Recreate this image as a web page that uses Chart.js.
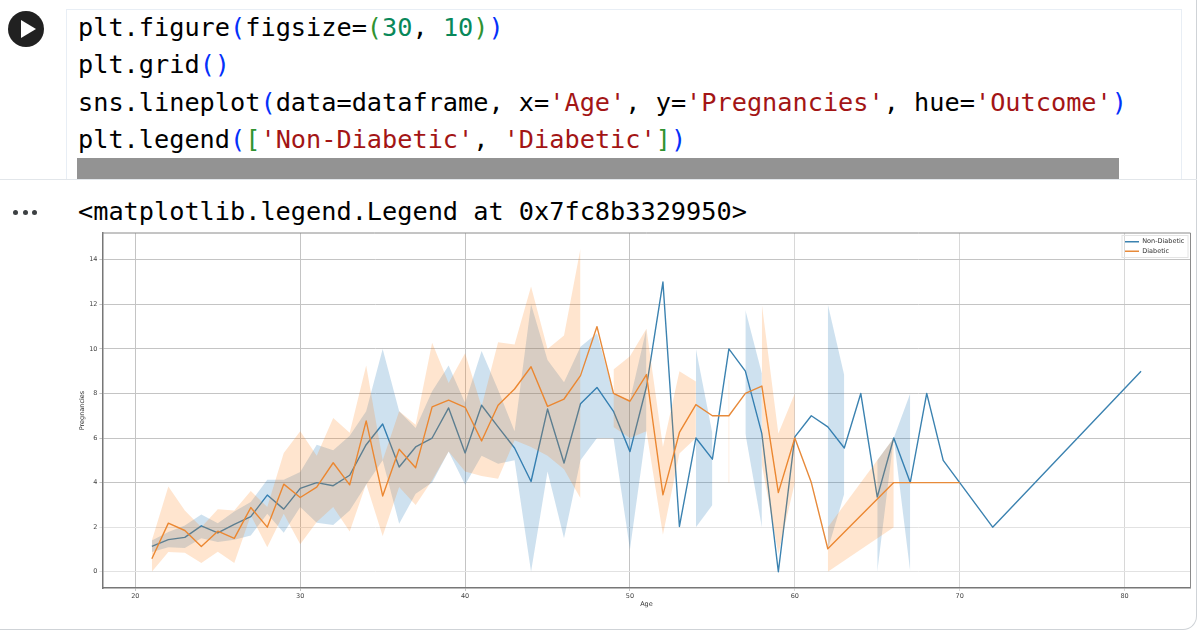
<!DOCTYPE html>
<html>
<head>
<meta charset="utf-8">
<title>Pregnancies by Age</title>
<script src="https://cdn.jsdelivr.net/npm/chart.js@4/dist/chart.umd.min.js"></script>
<style>
  html, body { margin: 0; padding: 0; background: #fff; }
  #page { position: relative; width: 1200px; height: 631px; overflow: hidden; }
  #page canvas { position: absolute; left: 0; top: 0; }
  /* notebook cell around the chart */
  .codebox { position: absolute; left: 66px; top: 9px; width: 1116px; height: 170px; border: 1px solid #e8eef5; border-bottom: none; box-sizing: border-box; }
  .divider { position: absolute; left: 0; top: 179px; width: 1197px; height: 1px; background: #e2e6ea; }
  .card { position: absolute; left: -20px; top: -20px; width: 1217px; height: 650px; border-right: 1px solid #cfd3d7; border-bottom: 1px solid #cfd3d7; border-bottom-right-radius: 14px; box-sizing: border-box; }
  .code { position: absolute; left: 78px; font: 25.25px/37px "DejaVu Sans Mono", monospace; color: #000; white-space: pre; }
  .play { position: absolute; left: 8px; top: 11px; width: 36px; height: 36px; border-radius: 50%; background: #212121; }
  .play i { position: absolute; left: 13px; top: 9px; border-left: 15px solid #fff; border-top: 9px solid transparent; border-bottom: 9px solid transparent; }
  .bar { position: absolute; left: 77px; top: 158px; width: 1042px; height: 21px; background: #939393; }
  .dots { position: absolute; left: 13px; top: 210px; width: 24px; display: flex; justify-content: space-between; }
  .dots i { width: 5px; height: 5px; border-radius: 50%; background: #3c4043; }
  .b { color: #0431fa; } .g { color: #319331; } .n { color: #09885a; } .s { color: #a31515; }
</style>
</head>
<body>
<div id="page">
  <div class="card"></div>
  <div class="codebox"></div>
  <div class="play"><i></i></div>
  <div class="code" style="top:9px">plt.figure<span class="b">(</span>figsize=<span class="g">(</span><span class="n">30</span>, <span class="n">10</span><span class="g">)</span><span class="b">)</span></div>
  <div class="code" style="top:46px">plt.grid<span class="b">()</span></div>
  <div class="code" style="top:84px">sns.lineplot<span class="b">(</span>data=dataframe, x=<span class="s">'Age'</span>, y=<span class="s">'Pregnancies'</span>, hue=<span class="s">'Outcome'</span><span class="b">)</span></div>
  <div class="code" style="top:121px">plt.legend<span class="b">(</span><span class="g">[</span><span class="s">'Non-Diabetic'</span>, <span class="s">'Diabetic'</span><span class="g">]</span><span class="b">)</span></div>
  <div class="bar"></div>
  <div class="divider"></div>
  <div class="dots"><i></i><i></i><i></i></div>
  <div class="code" style="top:193px">&lt;matplotlib.legend.Legend at 0x7fc8b3329950&gt;</div>
  <canvas id="myChart" width="1200" height="631"></canvas>
</div>
<script>
// values
const xTicks = [20, 30, 40, 50, 60, 70, 80];
const yTicks = [0, 2, 4, 6, 8, 10, 12, 14];

const blueAges = [21, 22, 23, 24, 25, 26, 27, 28, 29, 30, 31, 32, 33, 34, 35, 36, 37, 38, 39, 40, 41, 42, 43, 44, 45, 46, 47, 48, 49, 50, 51, 52, 53, 54, 55, 56, 57, 58, 59, 60, 61, 62, 63, 64, 65, 66, 67, 68, 69, 70, 72, 81];
const blueMean = [1.14, 1.44, 1.54, 2.06, 1.74, 2.13, 2.47, 3.44, 2.81, 3.74, 4, 3.86, 4.33, 5.7, 6.63, 4.7, 5.6, 6, 7.35, 5.33, 7.47, 6.5, 5.55, 4.05, 7.3, 4.88, 7.54, 8.27, 7.2, 5.39, 8.3, 13, 2.03, 6, 5.05, 10, 9, 6.2, 0, 6.05, 7, 6.5, 5.55, 8, 3.35, 6, 4, 8, 5, 4, 2, 9];
const blueUpper = [1.4, 1.78, 2.08, 2.57, 2.18, 2.7, 3.13, 4.13, 4.13, 4.48, 5.7, 5.45, 6.1, 7.2, 10, 7.2, 6.45, 8.1, 9.25, 7.57, 9.9, 8.17, 6.3, 12, 9.5, 8.5, 10.1, 10.7, 8, 7.7, 10.9, null, null, 10, 6.2, null, 11.75, 8.9, null, null, null, 12, 8.8, null, 5, 6, 8, null, null, null, null, null];
const blueLower = [0.88, 1.1, 1.06, 1.5, 1.33, 1.44, 1.63, 2.6, 1.75, 2.9, 2.2, 2.1, 2.75, 3.9, 5, 2.15, 3.5, 4, 5.4, 3.9, 5.2, 4.85, 5, 0, 4.5, 1.5, 5, 6, 6, 1, 6.37, null, null, 2, 3, null, 6.2, 2, null, null, null, 1, 3.5, null, 0, 6, 0, null, null, null, null, null];

const orangeAges = [21, 22, 23, 24, 25, 26, 27, 28, 29, 30, 31, 32, 33, 34, 35, 36, 37, 38, 39, 40, 41, 42, 43, 44, 45, 46, 47, 48, 49, 50, 51, 52, 53, 54, 55, 56, 57, 58, 59, 60, 61, 62, 66, 67, 70];
const orangeMean = [0.58, 2.18, 1.85, 1.13, 1.82, 1.5, 2.88, 2, 3.93, 3.33, 3.8, 4.89, 3.9, 6.77, 3.4, 5.5, 4.67, 7.4, 7.7, 7.38, 5.87, 7.47, 8.2, 9.2, 7.42, 7.75, 8.8, 11, 8, 7.65, 8.85, 3.45, 6.25, 7.5, 7, 7, 8, 8.33, 3.55, 6, 4, 1.03, 4, 4, 4];
const orangeUpper = [1.4, 3.83, 2.75, 2, 2.8, 2.75, 3.62, 2.9, 5.33, 6.3, 5.2, 6.9, 6.24, 9.25, 5, 7.2, 6.6, 10.27, 8.47, 9.8, 7.4, 10.3, 10.2, 12.8, 10, 10.6, 14.5, null, 9.07, 9.67, 10.9, 5.6, 9, 8.54, null, null, null, 12, 6.2, 8, null, 2, 6, null, null];
const orangeLower = [0, 0.88, 0.85, 0.39, 0.9, 0.39, 2.53, 1.1, 2.6, 1.23, 2.23, 2.9, 1.8, 3.95, 1.6, 3.8, 3, 4.1, 5.4, 4.5, 4.3, 4.17, 5.9, 5.6, 5.2, 4.6, 3.3, null, 6.5, 6, 6.3, 1.66, 5.3, 6, null, null, null, 4.8, 0.8, 4, null, 0, 2, null, null];
// zero-width band at 56, only a hairline in the picture
const hairlineAges = [56, 56];
const hairlineRange = [4, 8.6];

const blueLine = '#3b82b0';
const orangeLine = '#e78a3a';
const blueBand = 'rgba(31, 119, 180, 0.22)';
const orangeBand = 'rgba(255, 127, 14, 0.2)';

const toPoints = (ages, vals) => ages.map((a, i) => ({ x: a, y: vals[i] }));

const meanLine = (label, ages, vals, color, order) => ({
  label: label,
  data: toPoints(ages, vals),
  borderColor: color,
  backgroundColor: color,
  borderWidth: 1.4,
  borderJoinStyle: 'round',
  pointRadius: 0,
  order: order
});

const bandEdge = (ages, vals, fill, color, order) => ({
  data: toPoints(ages, vals),
  borderWidth: 0,
  pointRadius: 0,
  fill: fill,
  backgroundColor: color,
  order: order
});

const tickFont = { family: 'DejaVu Sans', size: 6.5 };

// top and right spines, and the legend moved into the upper right corner
const framePlugin = {
  id: 'framePlugin',
  beforeDraw(chart) {
    const a = chart.chartArea, l = chart.legend;
    l.width = 66;
    l.height = 22;
    l.left = a.right - 68.5;
    l.right = l.left + l.width;
    l.top = a.top + 2.5;
    l.bottom = l.top + l.height;
  },
  beforeDatasetsDraw(chart) {
    const a = chart.chartArea, c = chart.ctx;
    c.save();
    c.strokeStyle = '#8a8a8a';
    c.lineWidth = 1;
    c.beginPath();
    c.moveTo(a.left, a.top);
    c.lineTo(a.right, a.top);
    c.lineTo(a.right, a.bottom);
    c.stroke();
    c.restore();
  },
  afterDraw(chart) {
    const l = chart.legend, c = chart.ctx;
    c.save();
    c.strokeStyle = '#e4e4e4';
    c.strokeRect(l.left, l.top, l.width, l.height);
    c.restore();
  }
};

new Chart(document.getElementById('myChart'), {
  type: 'line',
  data: {
    datasets: [
      meanLine('Non-Diabetic', blueAges, blueMean, blueLine, 4),
      meanLine('Diabetic', orangeAges, orangeMean, orangeLine, 2),
      bandEdge(blueAges, blueLower, false, blueBand, 3),
      bandEdge(blueAges, blueUpper, '-1', blueBand, 3),
      bandEdge(orangeAges, orangeLower, false, orangeBand, 1),
      bandEdge(orangeAges, orangeUpper, '-1', orangeBand, 1),
      { data: toPoints(hairlineAges, hairlineRange), borderColor: 'rgba(255, 127, 14, 0.12)', borderWidth: 1, pointRadius: 0, order: 1 }
    ]
  },
  plugins: [framePlugin],
  options: {
    responsive: false,
    animation: false,
    devicePixelRatio: 1,
    layout: { padding: { left: 72, right: 9.5, top: 233, bottom: 21 } },
    plugins: {
      tooltip: { enabled: false },
      legend: {
        position: 'chartArea',
        align: 'start',
        labels: {
          filter: (item) => item.datasetIndex < 2,
          sort: (a, b) => a.datasetIndex - b.datasetIndex,
          usePointStyle: true,
          pointStyle: 'line',
          pointStyleWidth: 14,
          boxHeight: 4,
          padding: 3,
          color: '#333',
          font: { family: 'DejaVu Sans', size: 6.5 }
        }
      }
    },
    scales: {
      x: {
        type: 'linear',
        min: 18,
        max: 84,
        afterBuildTicks: (s) => { s.ticks = xTicks.map((v) => ({ value: v })); },
        afterFit: (s) => { s.height = 22; },
        ticks: { color: '#444', font: tickFont, maxRotation: 0, padding: 1 },
        // the right hand lines are fainter in the picture
        grid: { color: (c) => (c.tick && c.tick.value >= 60 ? '#d8d8d8' : '#c4c4c4'), lineWidth: 1, tickLength: 3 },
        border: { display: true, color: '#777', width: 1.5 },
        title: { display: true, text: 'Age', color: '#333', font: tickFont, padding: { top: 2, bottom: 2 } }
      },
      y: {
        min: -0.73,
        max: 15.2,
        afterBuildTicks: (s) => { s.ticks = yTicks.map((v) => ({ value: v })); },
        afterFit: (s) => { s.width = 30.4; },
        ticks: { color: '#444', font: tickFont, padding: 2 },
        // same for the two lowest lines
        grid: { color: (c) => (c.tick && c.tick.value <= 2 ? '#e2e2e2' : '#c4c4c4'), lineWidth: 1, tickLength: 3 },
        border: { display: true, color: '#777', width: 1.5 },
        title: { display: true, text: 'Pregnancies', color: '#333', font: tickFont, padding: { top: 6, bottom: 2 } }
      }
    }
  }
});
</script>
</body>
</html>
